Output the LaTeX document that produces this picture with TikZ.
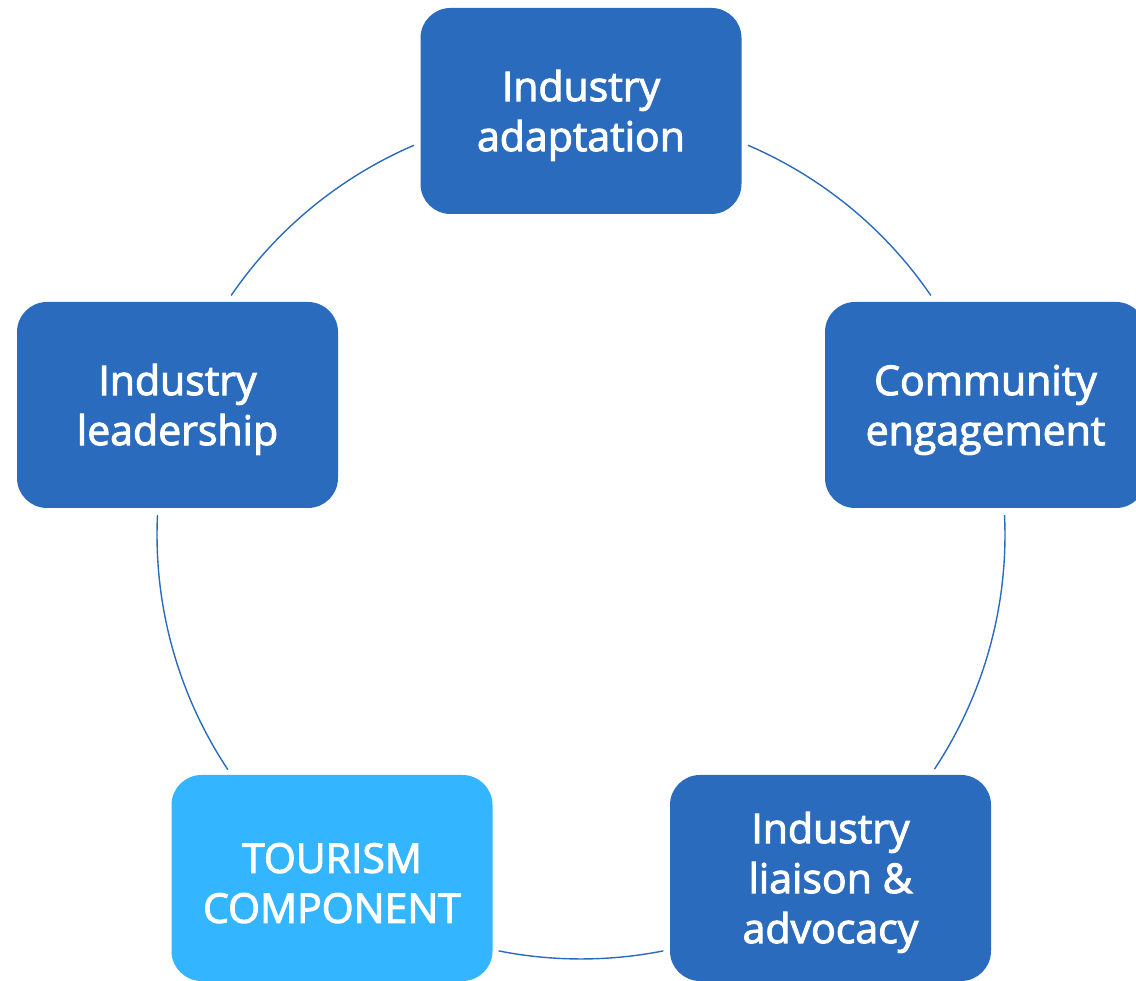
\documentclass[tikz,border=0pt]{standalone}
\usepackage{fontspec}
\setmainfont{Open Sans}
\newfontfamily\lblfont{Open Sans}[FakeBold=2.5]
\usetikzlibrary{calc}
\definecolor{boxblue}{HTML}{2A6BBD}
\definecolor{lightbox}{HTML}{33B5FF}
\newcommand\toppad{\rule{0pt}{40pt}}
\begin{document}
\begin{tikzpicture}[x=1pt,y=1pt,
  stage/.style={fill=boxblue, rounded corners=30pt, minimum width=321pt, minimum height=206pt,
    inner sep=0pt, text=white, align=center, font=\lblfont\fontsize{41}{50}\selectfont},
  link/.style={draw=boxblue, line width=1.4pt}]
\useasboundingbox (0,0) rectangle (1136,981);
\clip (0,0) rectangle (1136,981);
\coordinate (c) at (581,446);
\node[stage] (adapt) at (581,870) {\toppad Industry\\adaptation};
\node[stage] (comm) at (985.5,576) {\toppad Community\\engagement};
\node[stage] (liaison) at (830.5,103) {\toppad Industry\\liaison \&\\advocacy};
\node[stage, fill=lightbox] (tour) at (332,103) {\toppad TOURISM\\COMPONENT};
\node[stage] (lead) at (177.5,576) {\toppad Industry\\leadership};
\def\R{424}
\draw[link] ($(c)+(66.8:\R)$) arc[start angle=66.8, end angle=34.4, radius=\R];
\draw[link] ($(c)+(2.7:\R)$) arc[start angle=2.7, end angle=-33.5, radius=\R];
\draw[link] ($(c)+(-78.8:\R)$) arc[start angle=-78.8, end angle=-101.2, radius=\R];
\draw[link] ($(c)+(-146.4:\R)$) arc[start angle=-146.4, end angle=-182.7, radius=\R];
\draw[link] ($(c)+(145.6:\R)$) arc[start angle=145.6, end angle=113.2, radius=\R];
\end{tikzpicture}
\end{document}
